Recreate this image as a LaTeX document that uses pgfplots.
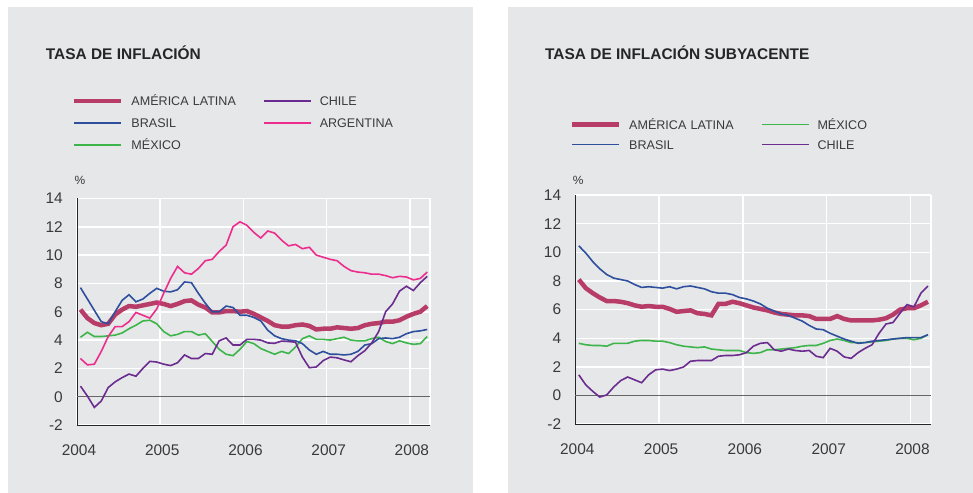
\documentclass[border=0pt]{standalone}
\usepackage{pgfplots}
\pgfplotsset{compat=1.18}
\usepackage{pgfplotstable}
\usepackage{fontspec}
\setmainfont{Liberation Sans}

\definecolor{panel}{HTML}{E6E7E8}
\definecolor{cAL}{HTML}{B83C68}
\definecolor{cBR}{HTML}{2E4F9E}
\definecolor{cMX}{HTML}{3DB54A}
\definecolor{cCH}{HTML}{6B2C8F}
\definecolor{cAR}{HTML}{EC2D8D}
\definecolor{txt}{HTML}{3A3A3A}

\pgfplotstableread{
al br ch ar mx
6.15 7.7 0.75 2.7 4.2
5.55 6.9 0.05 2.25 4.55
5.2 6.1 -0.75 2.3 4.25
5.05 5.3 -0.3 3.2 4.25
5.15 5.15 0.65 4.25 4.3
5.8 6.0 1.05 4.95 4.35
6.15 6.8 1.35 4.95 4.5
6.4 7.2 1.6 5.3 4.8
6.35 6.7 1.45 5.95 5.05
6.45 6.9 2.0 5.75 5.35
6.55 7.3 2.5 5.55 5.4
6.65 7.65 2.45 6.2 5.15
6.55 7.45 2.3 7.3 4.6
6.4 7.4 2.2 8.35 4.3
6.55 7.55 2.4 9.2 4.4
6.75 8.1 2.95 8.75 4.6
6.8 8.05 2.7 8.65 4.6
6.5 7.3 2.7 9.05 4.35
6.3 6.6 3.05 9.6 4.45
5.95 6.0 3.0 9.7 3.9
5.95 6.0 3.95 10.25 3.35
6.05 6.4 4.15 10.7 3.0
6.05 6.3 3.65 12.0 2.9
6.0 5.75 3.65 12.35 3.35
6.05 5.75 4.05 12.1 3.9
5.85 5.6 4.05 11.6 3.75
5.6 5.35 4.0 11.2 3.4
5.35 4.7 3.8 11.7 3.2
5.05 4.3 3.77 11.55 3.0
4.95 4.1 3.93 11.05 3.2
4.95 4.0 3.9 10.65 3.05
5.05 3.95 3.85 10.75 3.5
5.1 3.75 2.8 10.45 4.1
5.0 3.3 2.05 10.55 4.3
4.75 3.0 2.1 10.0 4.05
4.8 3.2 2.55 9.85 4.05
4.8 3.0 2.8 9.7 4.0
4.9 3.0 2.75 9.6 4.1
4.85 2.95 2.6 9.2 4.2
4.8 3.0 2.47 8.9 4.0
4.85 3.2 2.9 8.8 3.95
5.05 3.65 3.25 8.75 3.95
5.15 3.75 3.8 8.65 4.1
5.2 4.1 4.6 8.65 4.2
5.3 4.15 6.0 8.55 3.9
5.3 4.1 6.55 8.4 3.75
5.4 4.2 7.45 8.5 3.95
5.65 4.45 7.8 8.45 3.8
5.85 4.6 7.5 8.25 3.7
6.0 4.65 8.05 8.35 3.75
6.4 4.75 8.5 8.8 4.25
}\leftdata

\pgfplotstableread{
al br mx ch
8.1 10.45 3.65 1.45
7.5 9.95 3.55 0.75
7.15 9.35 3.5 0.3
6.85 8.85 3.5 -0.1
6.6 8.45 3.45 0.05
6.6 8.2 3.65 0.6
6.55 8.1 3.65 1.05
6.45 8.0 3.65 1.3
6.3 7.75 3.8 1.1
6.2 7.55 3.85 0.9
6.25 7.6 3.85 1.45
6.2 7.55 3.8 1.8
6.2 7.5 3.8 1.85
6.05 7.6 3.7 1.75
5.85 7.45 3.55 1.85
5.9 7.6 3.45 2.0
5.95 7.65 3.4 2.4
5.75 7.55 3.35 2.45
5.7 7.45 3.4 2.45
5.6 7.25 3.25 2.45
6.4 7.15 3.2 2.75
6.4 7.15 3.15 2.8
6.55 7.05 3.15 2.8
6.45 6.85 3.15 2.85
6.3 6.75 3.0 3.0
6.15 6.6 2.95 3.45
6.05 6.4 3.0 3.65
5.95 6.1 3.2 3.7
5.8 5.9 3.2 3.2
5.7 5.7 3.25 3.1
5.65 5.6 3.3 3.25
5.6 5.4 3.35 3.15
5.6 5.2 3.45 3.1
5.55 4.9 3.5 3.15
5.35 4.65 3.5 2.75
5.35 4.6 3.65 2.65
5.35 4.35 3.85 3.3
5.55 4.15 3.95 3.1
5.35 3.95 3.85 2.7
5.25 3.8 3.7 2.6
5.25 3.65 3.7 3.0
5.25 3.7 3.7 3.3
5.25 3.8 3.75 3.55
5.3 3.85 3.8 4.35
5.4 3.9 3.85 5.0
5.65 3.95 3.95 5.1
6.0 4.0 4.0 5.75
6.1 4.05 4.0 6.35
6.1 4.05 3.9 6.2
6.3 4.05 4.0 7.15
6.55 4.25 4.25 7.65
}\rightdata

\pgfplotsset{
  panelaxis/.style={
    scale only axis, xmin=0, xmax=50.9, ymin=-2, ymax=14,
    xtick={0,12,24,36,48}, xticklabels={2004,2005,2006,2007,2008},
    ytick={-2,2,4,6,8,10,12,14}, yticklabels={-2,2,4,6,8,10,12,14},
    extra y ticks={0}, extra y tick labels={0},
    extra y tick style={grid=major, major grid style={draw=black!60, line width=1bp}},
    extra x ticks={50.9}, extra x tick labels={},
    extra x tick style={grid=major, major grid style={draw=white, line width=1.6bp}},
    grid=major, major grid style={draw=white, line width=1.6bp},
    axis x line*=bottom, axis y line*=left,
    axis line style={draw=black!85, line width=1bp, -},
    major tick length=0pt,
    ticklabel style={font=\fontsize{15.5}{18}\selectfont, text=txt},
    xticklabel style={anchor=north, inner sep=0pt, text height=11bp, text depth=0pt, yshift=-19.5bp, xshift=2bp},
    yticklabel style={anchor=east, inner sep=0pt, xshift=-14bp},
    legend columns=2, legend cell align=left,
    legend image code/.code={\draw[##1] (0bp,0bp) -- (47bp,0bp);},
    legend style={draw=none, fill=none, inner sep=0pt, outer sep=0pt, anchor=north west,
      font=\fontsize{12.6}{14}\selectfont, text=txt,
      nodes={inner sep=0pt, text height=9.3bp, text depth=0pt},
      /tikz/column 1/.style={column sep=8bp},
      /tikz/column 2/.style={text width=131.7bp, column sep=0pt},
      /tikz/column 3/.style={column sep=8bp}},
  },
}
\tikzset{lnthin/.style={line width=1.6bp}, lnthick/.style={line width=4.5bp}}

\begin{document}
\begin{tikzpicture}[x=1bp,y=1bp]
\useasboundingbox (0,0) rectangle (973,493);
\fill[panel] (8,0) rectangle (473,486);
\fill[panel] (508,0) rectangle (973,486);

\node[anchor=base west, inner sep=0pt, font=\bfseries\fontsize{15.5}{18}\selectfont, text=black!85] at (45.7,433) {TASA DE INFLACIÓN};
\node[anchor=base west, inner sep=0pt, font=\bfseries\fontsize{15.5}{18}\selectfont, text=black!85] at (545,433) {TASA DE INFLACIÓN SUBYACENTE};
\node[inner sep=0pt, font=\fontsize{12}{14}\selectfont, text=txt] at (80,312.3) {\%};
\node[inner sep=0pt, font=\fontsize{12}{14}\selectfont, text=txt] at (578.3,312.3) {\%};

% Left panel
\begin{axis}[panelaxis, at={(77bp,67.9bp)}, anchor=south west, width=353bp, height=226.7bp,
  legend style={at={(axis description cs:-0.0142,1.4497)}, row sep=12.7bp}]
\addlegendimage{cAL, lnthick}\addlegendentry{AMÉRICA LATINA}
\addlegendimage{cCH, lnthin}\addlegendentry{CHILE}
\addlegendimage{cBR, lnthin}\addlegendentry{BRASIL}
\addlegendimage{cAR, lnthin}\addlegendentry{ARGENTINA}
\addlegendimage{cMX, lnthin}\addlegendentry{MÉXICO}
\addplot[cAL, lnthick, forget plot] table[x expr=\coordindex+0.5, y=al] {\leftdata};
\addplot[cMX, lnthin, forget plot] table[x expr=\coordindex+0.5, y=mx] {\leftdata};
\addplot[cBR, lnthin, forget plot] table[x expr=\coordindex+0.5, y=br] {\leftdata};
\addplot[cAR, lnthin, forget plot] table[x expr=\coordindex+0.5, y=ar] {\leftdata};
\addplot[cCH, lnthin, forget plot] table[x expr=\coordindex+0.5, y=ch] {\leftdata};
\end{axis}

% Right panel
\begin{axis}[panelaxis, at={(575.3bp,68.7bp)}, anchor=south west, width=355.4bp, height=229.3bp,
  legend style={at={(axis description cs:-0.0157,1.328)}, row sep=10.7bp}]
\addlegendimage{cAL, lnthick}\addlegendentry{AMÉRICA LATINA}
\addlegendimage{cMX, lnthin}\addlegendentry{MÉXICO}
\addlegendimage{cBR, lnthin}\addlegendentry{BRASIL}
\addlegendimage{cCH, lnthin}\addlegendentry{CHILE}
\addplot[cAL, lnthick, forget plot] table[x expr=\coordindex+0.5, y=al] {\rightdata};
\addplot[cMX, lnthin, forget plot] table[x expr=\coordindex+0.5, y=mx] {\rightdata};
\addplot[cBR, lnthin, forget plot] table[x expr=\coordindex+0.5, y=br] {\rightdata};
\addplot[cCH, lnthin, forget plot] table[x expr=\coordindex+0.5, y=ch] {\rightdata};
\end{axis}
\end{tikzpicture}
\end{document}
